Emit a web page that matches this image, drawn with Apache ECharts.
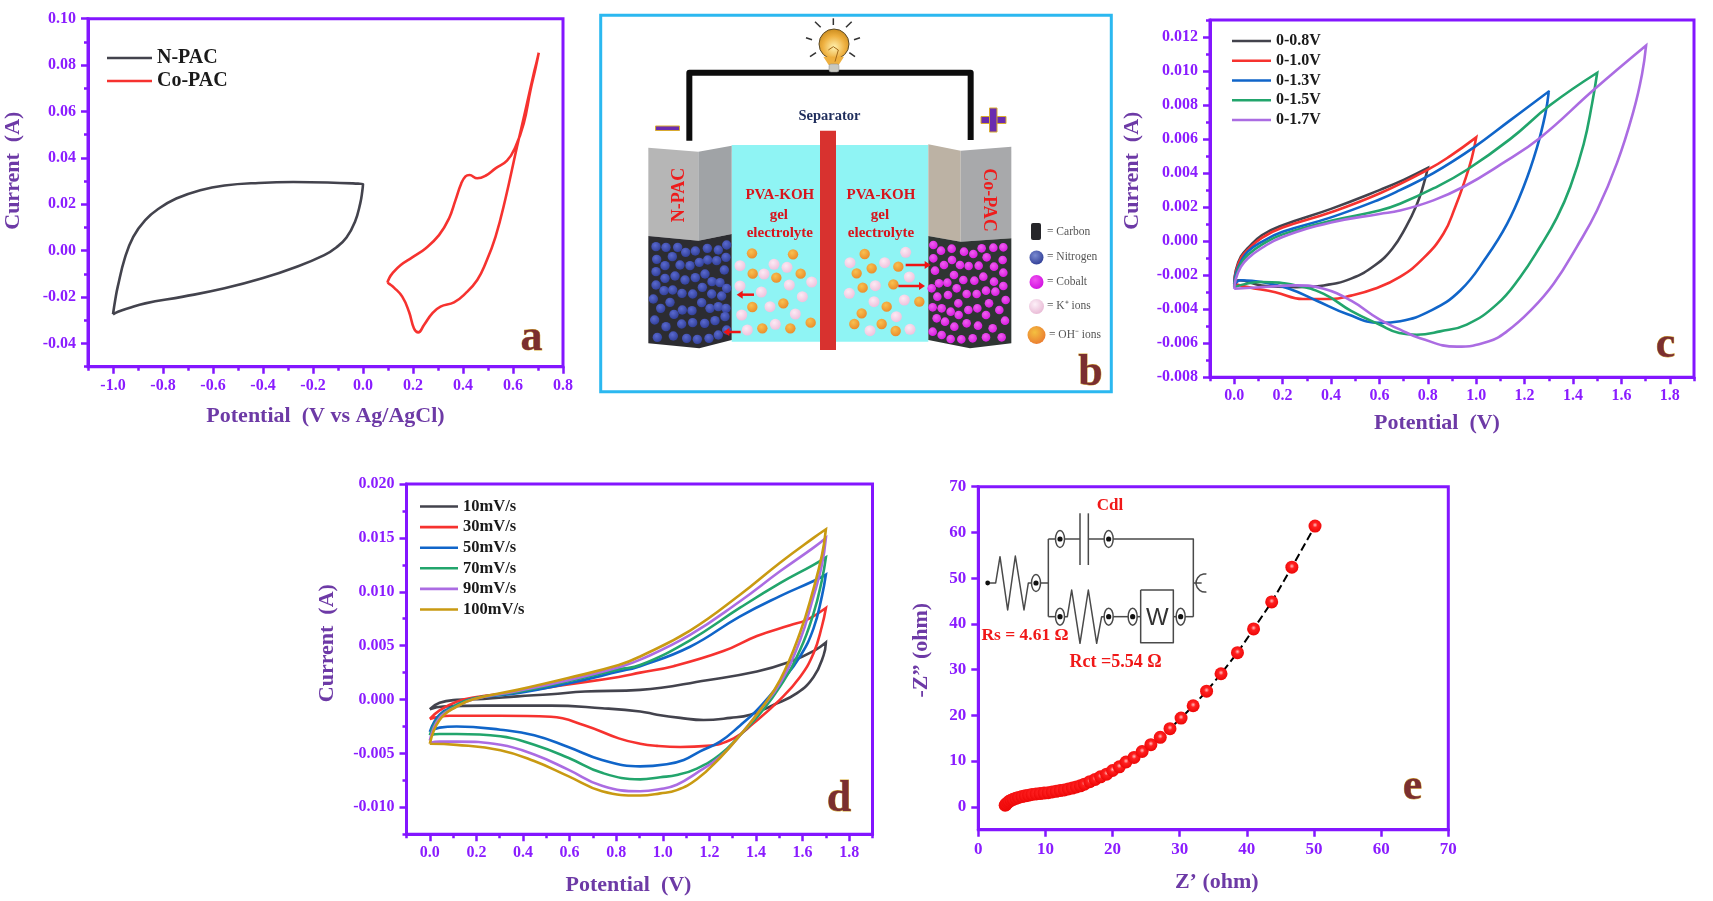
<!DOCTYPE html>
<html><head><meta charset="utf-8">
<style>html,body{margin:0;padding:0;background:#fff}#c{width:1713px;height:901px}</style>
<script src="https://cdn.jsdelivr.net/npm/echarts@6/dist/echarts.min.js"></script>
</head><body><div id="c"></div>
<script>
// ---------- panel a ----------
const aXMajor=[-1.0,-0.8,-0.6,-0.4,-0.2,0,0.2,0.4,0.6,0.8];
const aXMinor=[-1.1,-0.9,-0.7,-0.5,-0.3,-0.1,0.1,0.3,0.5,0.7];
const aYMajor=[-0.04,-0.02,0,0.02,0.04,0.06,0.08,0.10];
const aYMinor=[-0.05,-0.03,-0.01,0.01,0.03,0.05,0.07,0.09];
const aNPAC=[[-1,-0.0274],[-0.99,-0.0205],[-0.981,-0.0155],[-0.953,-0.0033],[-0.919,0.006],[-0.871,0.0132],[-0.816,0.0182],[-0.747,0.0225],[-0.651,0.0261],[-0.554,0.0281],[-0.417,0.0292],[-0.279,0.0296],[-0.142,0.0294],[-0.02,0.0289],[0,0.0287],[-0.003,0.0255],[-0.011,0.0204],[-0.032,0.0125],[-0.066,0.0057],[-0.107,0.0014],[-0.155,-0.0019],[-0.265,-0.0069],[-0.403,-0.0119],[-0.554,-0.0162],[-0.719,-0.0198],[-0.871,-0.0227],[-0.939,-0.0248],[-0.98,-0.0263],[-1,-0.0274]];
const aCoPAC=[[0.0976,-0.0138],[0.105,-0.0118],[0.1175,-0.0098],[0.151,-0.0062],[0.197,-0.0029],[0.25,0.001],[0.304,0.0067],[0.344,0.0139],[0.37,0.0218],[0.393,0.029],[0.41,0.032],[0.426,0.0326],[0.457,0.0312],[0.49,0.0323],[0.53,0.0355],[0.576,0.0388],[0.61,0.0448],[0.643,0.0549],[0.67,0.0692],[0.69,0.0785],[0.703,0.0853],[0.695,0.0815],[0.683,0.0764],[0.65,0.0606],[0.616,0.0448],[0.57,0.0225],[0.53,0.006],[0.49,-0.0055],[0.457,-0.0126],[0.41,-0.0184],[0.364,-0.0223],[0.31,-0.0241],[0.277,-0.027],[0.244,-0.032],[0.221,-0.0352],[0.204,-0.0335],[0.184,-0.0263],[0.157,-0.0198],[0.124,-0.0159],[0.105,-0.0143],[0.0976,-0.0138]];
// ---------- panel c ----------
const cdXMajor=[0,0.2,0.4,0.6,0.8,1.0,1.2,1.4,1.6,1.8];
const cdXMinor=[-0.1,0.1,0.3,0.5,0.7,0.9,1.1,1.3,1.5,1.7,1.9];
const cYMajor=[-0.008,-0.006,-0.004,-0.002,0,0.002,0.004,0.006,0.008,0.010,0.012];
const cYMinor=[-0.007,-0.005,-0.003,-0.001,0.001,0.003,0.005,0.007,0.009,0.011,0.013];
const c08=[[0,-0.0025],[0.007,-0.0017],[0.028,-0.0009],[0.057,-0.0004],[0.114,0.00035],[0.2,0.00094],[0.4,0.0019],[0.6,0.003],[0.7,0.0036],[0.8,0.0043],[0.78,0.0032],[0.753,0.0021],[0.71,0.00084],[0.654,-0.00043],[0.583,-0.0014],[0.483,-0.0022],[0.37,-0.0026],[0.256,-0.0027],[0.114,-0.0026],[0.02,-0.0023],[0,-0.0026]];
const c10=[[0,-0.0025],[0.007,-0.0018],[0.028,-0.001],[0.057,-0.0005],[0.114,0.0002],[0.2,0.0008],[0.4,0.0017],[0.6,0.0028],[0.8,0.0042],[0.892,0.005],[1.0,0.0061],[0.982,0.0049],[0.954,0.0036],[0.913,0.002],[0.865,0.00045],[0.782,-0.001],[0.685,-0.0021],[0.58,-0.0028],[0.483,-0.0032],[0.4,-0.0034],[0.284,-0.0034],[0.17,-0.003],[0.057,-0.0027],[0,-0.0025]];
const c13=[[0,-0.0026],[0.007,-0.0019],[0.028,-0.0012],[0.057,-0.0006],[0.114,-0.00004],[0.2,0.00055],[0.4,0.0014],[0.6,0.00245],[0.685,0.003],[0.823,0.004],[0.989,0.0055],[1.14,0.0071],[1.3,0.0088],[1.286,0.0075],[1.251,0.0055],[1.196,0.0032],[1.127,0.001],[1.044,-0.0009],[0.934,-0.0029],[0.81,-0.0041],[0.686,-0.0047],[0.6,-0.0048],[0.469,-0.0043],[0.341,-0.0035],[0.227,-0.0028],[0.114,-0.0024],[0.028,-0.0023],[0,-0.0026]];
const c15=[[0,-0.0027],[0.007,-0.0021],[0.028,-0.0013],[0.057,-0.0008],[0.114,-0.0002],[0.2,0.0004],[0.4,0.0012],[0.6,0.0018],[0.685,0.0022],[0.823,0.0031],[0.962,0.0042],[1.14,0.006],[1.306,0.008],[1.5,0.0099],[1.479,0.0081],[1.444,0.0057],[1.389,0.0032],[1.334,0.0014],[1.265,-0.0003],[1.182,-0.0021],[1.086,-0.0037],[0.961,-0.0049],[0.851,-0.0053],[0.754,-0.0055],[0.682,-0.0054],[0.6,-0.0049],[0.483,-0.0041],[0.37,-0.0031],[0.256,-0.0026],[0.114,-0.0024],[0,-0.0027]];
const c17=[[0,-0.0028],[0.007,-0.0022],[0.028,-0.0015],[0.057,-0.001],[0.114,-0.0004],[0.2,0.00025],[0.4,0.0011],[0.6,0.0016],[0.685,0.0018],[0.823,0.0024],[0.948,0.0032],[1.1,0.0045],[1.266,0.0061],[1.486,0.0089],[1.702,0.0115],[1.685,0.0098],[1.651,0.0077],[1.582,0.0046],[1.499,0.0018],[1.417,-0.0003],[1.32,-0.0025],[1.223,-0.0041],[1.127,-0.0053],[1.05,-0.0059],[0.92,-0.0062],[0.768,-0.0057],[0.686,-0.0052],[0.6,-0.0046],[0.483,-0.0035],[0.37,-0.0028],[0.256,-0.0026],[0.114,-0.0027],[0,-0.0028]];
// ---------- panel d ----------
const dYMajor=[-0.010,-0.005,0,0.005,0.010,0.015,0.020];
const dYMinor=[-0.0125,-0.0075,-0.0025,0.0025,0.0075,0.0125,0.0175];
const d10=[[0,-0.0009],[0.042,-0.0003],[0.115,-0.00003],[0.23,0.00006],[0.376,0.0003],[0.52,0.0005],[0.666,0.00075],[0.903,0.0009],[1.19,0.0018],[1.404,0.0026],[1.546,0.0035],[1.647,0.0045],[1.7,0.0053],[1.69,0.0041],[1.647,0.0021],[1.576,0.0006],[1.475,-0.0005],[1.376,-0.0014],[1.29,-0.0017],[1.175,-0.0019],[1.075,-0.0017],[0.975,-0.0014],[0.903,-0.0011],[0.739,-0.0008],[0.52,-0.00056],[0.23,-0.00056],[0.057,-0.00065],[0,-0.0009]];
const d30=[[0,-0.0018],[0.042,-0.001],[0.115,-0.0002],[0.187,0.0002],[0.376,0.0007],[0.594,0.0014],[0.811,0.0021],[0.903,0.0025],[1.046,0.0031],[1.26,0.0045],[1.404,0.0059],[1.546,0.0069],[1.618,0.0074],[1.7,0.0085],[1.683,0.0068],[1.647,0.0043],[1.589,0.0021],[1.503,0],[1.389,-0.0022],[1.304,-0.0036],[1.189,-0.0043],[1.075,-0.0044],[0.975,-0.0043],[0.903,-0.0041],[0.811,-0.0036],[0.666,-0.0024],[0.52,-0.0016],[0.303,-0.0015],[0.086,-0.0015],[0,-0.0018]];
const d50=[[0,-0.003],[0.042,-0.0014],[0.115,-0.0005],[0.187,0.0001],[0.376,0.0006],[0.594,0.0015],[0.811,0.0026],[0.903,0.0031],[1.117,0.0049],[1.33,0.0077],[1.503,0.0096],[1.647,0.011],[1.7,0.0116],[1.683,0.0096],[1.647,0.0066],[1.589,0.004],[1.503,0.0015],[1.403,-0.001],[1.332,-0.0024],[1.246,-0.0039],[1.16,-0.0048],[1.09,-0.0056],[1.017,-0.006],[0.903,-0.0062],[0.739,-0.0056],[0.594,-0.0044],[0.448,-0.0033],[0.303,-0.0028],[0.115,-0.0025],[0.042,-0.0026],[0,-0.003]];
const d70=[[0,-0.0033],[0.042,-0.0016],[0.115,-0.0005],[0.187,0.0001],[0.376,0.0007],[0.594,0.0017],[0.811,0.0028],[0.903,0.0032],[1.117,0.0055],[1.33,0.0085],[1.503,0.0108],[1.647,0.0125],[1.7,0.0132],[1.683,0.0111],[1.647,0.008],[1.589,0.0046],[1.503,0.0012],[1.417,-0.0013],[1.332,-0.0033],[1.246,-0.0051],[1.146,-0.0064],[1.06,-0.007],[0.989,-0.0072],[0.903,-0.0074],[0.739,-0.0068],[0.594,-0.0054],[0.448,-0.0042],[0.303,-0.0034],[0.115,-0.0032],[0.042,-0.0032],[0,-0.0033]];
const d90=[[0,-0.0038],[0.042,-0.0017],[0.115,-0.00065],[0.187,0.00003],[0.376,0.0008],[0.594,0.0018],[0.811,0.003],[0.903,0.0037],[1.117,0.006],[1.33,0.0091],[1.503,0.0119],[1.647,0.0141],[1.7,0.015],[1.683,0.0125],[1.647,0.0096],[1.589,0.0055],[1.503,0.0015],[1.417,-0.001],[1.332,-0.0033],[1.246,-0.0053],[1.146,-0.0068],[1.06,-0.0079],[0.989,-0.0083],[0.903,-0.0085],[0.739,-0.008],[0.594,-0.0065],[0.448,-0.0051],[0.303,-0.0042],[0.115,-0.0039],[0.042,-0.0039],[0,-0.004]];
const d100=[[0,-0.0041],[0.042,-0.0019],[0.115,-0.00065],[0.187,0.00003],[0.376,0.0009],[0.594,0.002],[0.811,0.0032],[0.903,0.004],[1.117,0.0064],[1.33,0.0097],[1.503,0.0127],[1.647,0.015],[1.7,0.0158],[1.683,0.0134],[1.647,0.0103],[1.589,0.0062],[1.503,0.0018],[1.417,-0.001],[1.332,-0.0033],[1.246,-0.0054],[1.146,-0.0074],[1.06,-0.0084],[0.989,-0.0087],[0.903,-0.0089],[0.739,-0.0085],[0.594,-0.0071],[0.448,-0.0057],[0.303,-0.0047],[0.115,-0.0042],[0,-0.0041]];
// ---------- panel e ----------
const eXMajor=[0,10,20,30,40,50,60,70];
const eYMajor=[0,10,20,30,40,50,60,70];
const eZre=[4.0,4.1,4.2,4.4,4.6,4.9,5.2,5.6,6.0,6.5,7.0,7.5,8.0,8.6,9.2,9.8,10.4,11,11.6,12.2,12.8,13.4,14,14.6,15.2,15.8,16.6,17.4,18.2,19.1,20.0,21.0,22.0,23.2,24.4,25.7,27.1,28.55,30.2,32.0,34.0,36.15,38.6,41.0,43.7,46.7,50.15];
const eZim=[0.35,0.5,0.7,0.95,1.2,1.45,1.65,1.85,2.05,2.25,2.4,2.55,2.7,2.8,2.9,3.0,3.1,3.25,3.4,3.55,3.7,3.9,4.1,4.35,4.6,4.95,5.5,6.0,6.56,7.15,7.95,8.75,9.8,10.8,12.1,13.6,15.2,17.1,19.4,22.1,25.3,29.1,33.7,38.9,44.8,52.4,61.4];

const SERIF='"Liberation Serif",serif';
const AX='#8316ff', TITLE='#6d3aa6', TICK='#8a1cff';
const COL={black:'#43434d',red:'#f6322f',blue:'#1065c9',green:'#22a56c',purple:'#ab6ce2',gold:'#c99a12'};

const grids=[
 {left:88,top:18.7,width:475,height:348},
 {left:1210,top:20,width:484,height:357.3},
 {left:406.5,top:484,width:466,height:350.3},
 {left:978.3,top:486.7,width:470,height:343}
].map(g=>Object.assign(g,{show:true,borderColor:AX,borderWidth:3,backgroundColor:'transparent'}));

function axisPair(kind,grid,min,max,major,minor,dec,name,gap,pad,fs){
  const main={type:'value',gridIndex:grid,min,max,position:kind==='x'?'bottom':'left',
    axisLine:{show:true,onZero:false,lineStyle:{color:AX,width:3}},
    axisTick:{show:true,customValues:major,length:7,lineStyle:{color:AX,width:2.5}},
    axisLabel:{show:true,customValues:major,margin:kind==='x'?11:12,color:TICK,fontFamily:SERIF,fontWeight:'bold',fontSize:fs,formatter:v=>Number(v).toFixed(dec)},
    splitLine:{show:false},minorTick:{show:false},
    name,nameLocation:'middle',nameGap:gap,
    nameTextStyle:{color:TITLE,fontFamily:SERIF,fontWeight:'bold',fontSize:22,padding:pad}};
  const out=[main];
  if(minor.length) out.push({type:'value',gridIndex:grid,min,max,position:kind==='x'?'bottom':'left',
    axisLine:{show:false,onZero:false},axisLabel:{show:false},splitLine:{show:false},
    axisTick:{show:true,customValues:minor,length:4,lineStyle:{color:AX,width:2.5}}});
  return out;
}
const xAxes=[
 ...axisPair('x',0,-1.1,0.8,aXMajor,aXMinor,1,'Potential  (V vs Ag/AgCl)',39,[0,0,0,0],16),
 ...axisPair('x',1,-0.1,1.9,cdXMajor,cdXMinor,1,'Potential  (V)',35,[0,30,0,0],16),
 ...axisPair('x',2,-0.1,1.9,cdXMajor,cdXMinor,1,'Potential  (V)',40,[0,22,0,0],16),
 ...axisPair('x',3,0,70,eXMajor,[],0,'Z’ (ohm)',42,[0,0,0,7],17)
];
const yAxes=[
 ...axisPair('y',0,-0.05,0.10,aYMajor,aYMinor,2,'Current  (A)',64,[0,0,0,44],16),
 ...axisPair('y',1,-0.008,0.013,cYMajor,cYMinor,3,'Current  (A)',67,[0,0,0,56],16),
 ...axisPair('y',2,-0.0125,0.02,dYMajor,dYMinor,3,'Current  (A)',68,[0,0,0,32],16),
 ...axisPair('y',3,-5,70,eYMajor,[],0,'-Z” (ohm)',46,[0,0,0,16],17)
];
const MAIN=[0,2,4,6];
function cv(name,data,color,panel){
  return {type:'line',name,data,xAxisIndex:MAIN[panel],yAxisIndex:MAIN[panel],showSymbol:false,symbol:'none',smooth:0.45,
    clip:false,lineStyle:{color,width:2.6,join:'miter'},itemStyle:{color},emphasis:{disabled:true},silent:true};
}
const series=[
 cv('N-PAC',aNPAC,COL.black,0),cv('Co-PAC',aCoPAC,COL.red,0),
 cv('0-0.8V',c08,COL.black,1),cv('0-1.0V',c10,COL.red,1),cv('0-1.3V',c13,COL.blue,1),cv('0-1.5V',c15,COL.green,1),cv('0-1.7V',c17,COL.purple,1),
 cv('10mV/s',d10,COL.black,2),cv('30mV/s',d30,COL.red,2),cv('50mV/s',d50,COL.blue,2),cv('70mV/s',d70,COL.green,2),cv('90mV/s',d90,COL.purple,2),cv('100mV/s',d100,COL.gold,2),
 {type:'line',name:'EIS',data:eZre.map((x,i)=>[x,eZim[i]]),xAxisIndex:MAIN[3],yAxisIndex:MAIN[3],symbol:'circle',symbolSize:13,clip:false,silent:true,
  lineStyle:{color:'#000',width:2,type:'dashed'},
  itemStyle:{borderWidth:0,color:{type:'radial',x:0.5,y:0.42,r:0.55,colorStops:[{offset:0,color:'#ffc0c0'},{offset:0.35,color:'#ff2020'},{offset:1,color:'#ee0808'}]}},z:3}
];
function lg(names,left,top,w,gap,fs){
  return {data:names,icon:'rect',orient:'vertical',left,top,itemWidth:w,itemHeight:2.6,itemGap:gap,selectedMode:false,padding:0,
    textStyle:{color:'#1a1a1a',fontFamily:SERIF,fontWeight:'bold',fontSize:fs}};
}
const legends=[
 lg(['N-PAC','Co-PAC'],107,48,45,3,20),
 lg(['0-0.8V','0-1.0V','0-1.3V','0-1.5V','0-1.7V'],1232,33,39,3.75,16),
 lg(['10mV/s','30mV/s','50mV/s','70mV/s','90mV/s','100mV/s'],420,498,38,3.6,16.5)
];

// ---------- diagram (panel b) and circuit inset (panel e) ----------
const g=[];
const bP=(x,y)=>[540+x/3,y/3];
const eP=(x,y)=>[830+x/3,430+y/3];
function poly(pts,conv,fill){g.push({type:'polygon',shape:{points:pts.map(p=>conv(p[0],p[1]))},style:{fill}});}
function pline(pts,conv,stroke,lw){g.push({type:'polyline',shape:{points:pts.map(p=>conv(p[0],p[1]))},style:{stroke,lineWidth:lw,fill:null,lineJoin:'round'}});}
function txt(text,x,y,font,fill,extra){g.push(Object.assign({type:'text',x,y,style:{text,font,fill,align:'center',verticalAlign:'middle',textAlign:'center',textVerticalAlign:'middle'}},extra||{}));}
function ball(x,y,r,c1,c2){g.push({type:'circle',shape:{cx:x,cy:y,r},style:{fill:{type:'radial',x:0.4,y:0.35,r:0.7,colorStops:[{offset:0,color:c1},{offset:1,color:c2}]}}});}
const nitrogenDots=[[348,740],[378,742],[413,742],[437,757],[466,753],[502,745],[535,750],[560,735],[397,770],[350,778],[375,797],[420,795],[450,797],[478,787],[503,780],[530,782],[558,772],[348,815],[375,835],[405,828],[435,840],[466,833],[495,822],[516,845],[540,848],[553,810],[348,855],[372,872],[398,870],[426,880],[458,882],[487,862],[515,882],[545,888],[560,865],[340,897],[362,925],[390,907],[427,930],[456,932],[485,908],[510,925],[535,920],[558,925],[344,960],[378,980],[402,943],[425,972],[458,968],[494,970],[525,962],[555,950],[352,1012],[400,1008],[440,1015],[472,1018],[507,1015],[535,1005],[560,990]];
const cobaltDots=[[1180,735],[1203,752],[1235,746],[1272,755],[1300,762],[1325,745],[1360,743],[1390,742],[1180,775],[1212,795],[1236,780],[1260,795],[1286,798],[1316,797],[1340,772],[1362,800],[1388,780],[1185,812],[1242,825],[1270,840],[1303,842],[1330,830],[1362,845],[1390,818],[1175,865],[1197,850],[1222,848],[1250,865],[1280,882],[1310,882],[1338,872],[1366,875],[1390,858],[1192,890],[1224,885],[1255,910],[1285,930],[1312,925],[1347,910],[1397,900],[1178,922],[1205,925],[1232,935],[1256,945],[1338,945],[1378,930],[1190,955],[1215,965],[1243,980],[1280,970],[1314,977],[1358,985],[1395,962],[1178,995],[1205,1005],[1232,1017],[1264,1018],[1298,1015],[1338,1012],[1385,1012]];
const kDots=[[600,797],[702,793],[741,802],[672,822],[815,846],[748,855],[600,858],[664,876],[787,890],[690,920],[605,945],[766,942],[622,990],[706,973],[1097,757],[930,788],[1034,788],[1108,831],[1006,857],[928,880],[1002,905],[1093,900],[1069,950],[990,992],[1110,988]];
const ohDots=[[636,760],[759,763],[638,821],[709,833],[782,821],[730,910],[637,921],[667,985],[751,985],[812,968],[974,762],[995,805],[950,820],[1075,800],[1060,853],[968,863],[1040,920],[1138,905],[965,940],[943,972],[1025,972],[1067,993]];
// frame
g.push({type:'rect',shape:{x:600.7,y:15.3,width:510.6,height:376.4},style:{fill:'#fff',stroke:'#2bb8f0',lineWidth:3}});
// wire
pline([[448,422],[448,218],[1292,218],[1292,420]],bP,'#0c0c0c',6);
// bulb
[[880,55,880,75],[825,65,842,82],[935,65,918,82],[798,113,816,119],[960,113,942,119],[810,170,828,158],[945,170,928,158]].forEach(r=>{const a=bP(r[0],r[1]),b=bP(r[2],r[3]);g.push({type:'line',shape:{x1:a[0],y1:a[1],x2:b[0],y2:b[1]},style:{stroke:'#333',lineWidth:1.5}});});
g.push({type:'circle',shape:{cx:834,cy:44,r:15},style:{fill:{type:'radial',x:0.5,y:0.6,r:0.6,colorStops:[{offset:0,color:'#fff2b0'},{offset:0.6,color:'#eeb040'},{offset:1,color:'#c98a1c'}]},stroke:'#5a4a2a',lineWidth:1}});
poly([[850,170],[912,170],[896,195],[866,195]],bP,'#eeb040');
g.push({type:'rect',shape:{x:829,y:64,width:10,height:8,r:2},style:{fill:'#c8c8c0',stroke:'#888',lineWidth:0.5}});
pline([[865,150],[880,140],[895,150],[885,185]],bP,'#a36a1a',1);
// signs
g.push({type:'rect',shape:{x:655.5,y:126,width:24,height:4.5},style:{fill:'#6a2cb0',stroke:'#d8aa30',lineWidth:1}});
g.push({type:'rect',shape:{x:981,y:116.5,width:25,height:7},style:{fill:'#6a2cb0',stroke:'#d8aa30',lineWidth:1}});
g.push({type:'rect',shape:{x:989.5,y:108,width:7.5,height:24},style:{fill:'#6a2cb0',stroke:'#d8aa30',lineWidth:1}});
txt('Separator',829.5,116,'bold 14.5px '+SERIF,'#1f2d5c');
// electrolyte
poly([[575,435],[1165,435],[1165,1025],[575,1025]],bP,'#8ff4f4');
// electrodes
poly([[325,443],[475,455],[475,722],[325,708]],bP,'#b6b6b6');
poly([[475,455],[575,437],[575,702],[475,722]],bP,'#a0a3a6');
poly([[325,708],[475,722],[575,702],[575,1020],[478,1045],[325,1030]],bP,'#2c2c31');
poly([[1165,433],[1262,452],[1262,725],[1165,708]],bP,'#bcb2a4');
poly([[1262,452],[1414,440],[1414,715],[1262,725]],bP,'#a8a9ab');
poly([[1165,708],[1262,725],[1414,715],[1414,1030],[1290,1045],[1165,1020]],bP,'#2f3533');
poly([[840,392],[888,392],[888,1050],[840,1050]],bP,'#d8322f');
nitrogenDots.forEach(p=>{const q=bP(p[0],p[1]);ball(q[0],q[1],4.7,'#5a6ad0','#2f3d96');});
cobaltDots.forEach(p=>{const q=bP(p[0],p[1]);ball(q[0],q[1],4.3,'#f060f0','#d818e0');});
kDots.forEach(p=>{const q=bP(p[0],p[1]);ball(q[0],q[1],5.5,'#fdeaf4','#eec0dc');});
ohDots.forEach(p=>{const q=bP(p[0],p[1]);ball(q[0],q[1],5.2,'#f8c050','#ea8a28');});
txt('N-PAC',679,195,'bold 18px '+SERIF,'#ee1c1c',{rotation:Math.PI/2});
txt('Co-PAC',989,200,'bold 18px '+SERIF,'#ee1c1c',{rotation:-Math.PI/2});
[[719.5],[1023]].forEach((c,i)=>{const x=540+c[0]/3;
 txt('PVA-KOH',x,195,'bold 15px '+SERIF,'#d8141c');txt('gel',x-1,215,'bold 15px '+SERIF,'#d8141c');txt('electrolyte',x,233,'bold 15px '+SERIF,'#d8141c');});
function arrow(x1,x2,y){const a=bP(x1,y),b=bP(x2,y),d=x2>x1?1:-1;
 g.push({type:'line',shape:{x1:a[0],y1:a[1],x2:b[0]-d*4,y2:b[1]},style:{stroke:'#ee1414',lineWidth:2.5}});
 g.push({type:'polygon',shape:{points:[[b[0],b[1]],[b[0]-d*6,b[1]-4],[b[0]-d*6,b[1]+4]]},style:{fill:'#ee1414'}});}
arrow(642,590,884);arrow(602,550,996);arrow(1097,1172,795);arrow(1075,1155,858);
// key of b
g.push({type:'rect',shape:{x:1031,y:223,width:10,height:17,r:2},style:{fill:'#26262a'}});
ball(1036.5,257.5,7,'#7a8ad0','#2f3d96');ball(1036.5,282,7,'#f050f0','#d010e0');ball(1036.5,306.5,7.5,'#fdf0f8','#e8b8d4');ball(1036.5,335,9,'#f4c040','#ea7a30');
[['= Carbon',1047,232],['= Nitrogen',1047,257],['= Cobalt',1047,282],['= K⁺ ions',1047,306],['= OH⁻ ions',1049,335]].forEach(t=>{
 g.push({type:'text',x:t[1],y:t[2],style:{text:t[0],font:'11.5px '+SERIF,fill:'#555',align:'left',verticalAlign:'middle',textAlign:'left',textVerticalAlign:'middle'}});});
// panel letters
[['a',531.5,339],['b',1090.5,374],['c',1665.5,346],['d',839,800],['e',1412.5,788]].forEach(t=>{
 g.push({type:'text',x:t[1],y:t[2],z:5,style:{text:t[0],font:'bold 44px '+SERIF,fill:'#7b2f30',stroke:'#d6ac3a',lineWidth:0.8,align:'center',verticalAlign:'middle',textAlign:'center',textVerticalAlign:'middle'}});});
// circuit inset
const CC='#4a4a4a';
function node(x,y){const q=eP(x,y);g.push({type:'ellipse',shape:{cx:q[0],cy:q[1],rx:4.5,ry:8.5},style:{fill:'#fff',stroke:CC,lineWidth:1.5}});g.push({type:'circle',shape:{cx:q[0],cy:q[1],r:2.6},style:{fill:'#111'}});}
pline([[473,459],[497,459],[510,380],[533,540],[556,378],[582,540],[595,459],[606,459]],eP,CC,1.5);
pline([[630,459],[655,459]],eP,CC,1.5);pline([[655,327],[655,560]],eP,CC,1.5);
pline([[655,327],[677,327]],eP,CC,1.5);pline([[703,327],[750,327]],eP,CC,1.5);
pline([[750,250],[750,405]],eP,CC,1.5);pline([[775,250],[775,405]],eP,CC,1.5);
pline([[775,327],[825,327]],eP,CC,1.5);pline([[848,327],[1090,327],[1090,560]],eP,CC,1.5);
pline([[655,560],[678,560]],eP,CC,1.5);pline([[702,560],[712,560],[725,480],[750,640],[775,480],[800,640],[815,560],[825,560]],eP,CC,1.5);
pline([[848,560],[895,560]],eP,CC,1.5);pline([[920,560],[932,560]],eP,CC,1.5);pline([[1030,560],[1040,560]],eP,CC,1.5);pline([[1065,560],[1090,560]],eP,CC,1.5);
pline([[1090,459],[1115,459]],eP,CC,1.5);
pline([[932,480],[1030,480],[1030,638],[932,638],[932,480]],eP,CC,1.5);
g.push({type:'arc',shape:{cx:830+1125/3,cy:430+459/3,r:9,startAngle:Math.PI*0.45,endAngle:Math.PI*1.55,clockwise:true},style:{stroke:CC,lineWidth:1.5,fill:null}});
[[618,459],[690,327],[836,327],[690,560],[836,560],[908,560],[1052,560]].forEach(n=>node(n[0],n[1]));
g.push({type:'circle',shape:{cx:830+473/3,cy:430+459/3,r:2.4},style:{fill:'#111'}});
txt('W',830+982/3,430+565/3,'24px "Liberation Sans",sans-serif','#333');
txt('Cdl',830+840/3,430+228/3,'bold 17px '+SERIF,'#f01818');
txt('Rs = 4.61 Ω',830+585/3,430+615/3,'bold 17.5px '+SERIF,'#f01818');
txt('Rct =5.54 Ω',830+857/3,430+697/3,'bold 18px '+SERIF,'#f01818');

const chart=echarts.init(document.getElementById('c'),null,{renderer:'canvas'});
chart.setOption({animation:false,backgroundColor:'#fff',textStyle:{fontFamily:SERIF},
  grid:grids,xAxis:xAxes,yAxis:yAxes,series,legend:legends,graphic:{elements:g}});
</script></body></html>
